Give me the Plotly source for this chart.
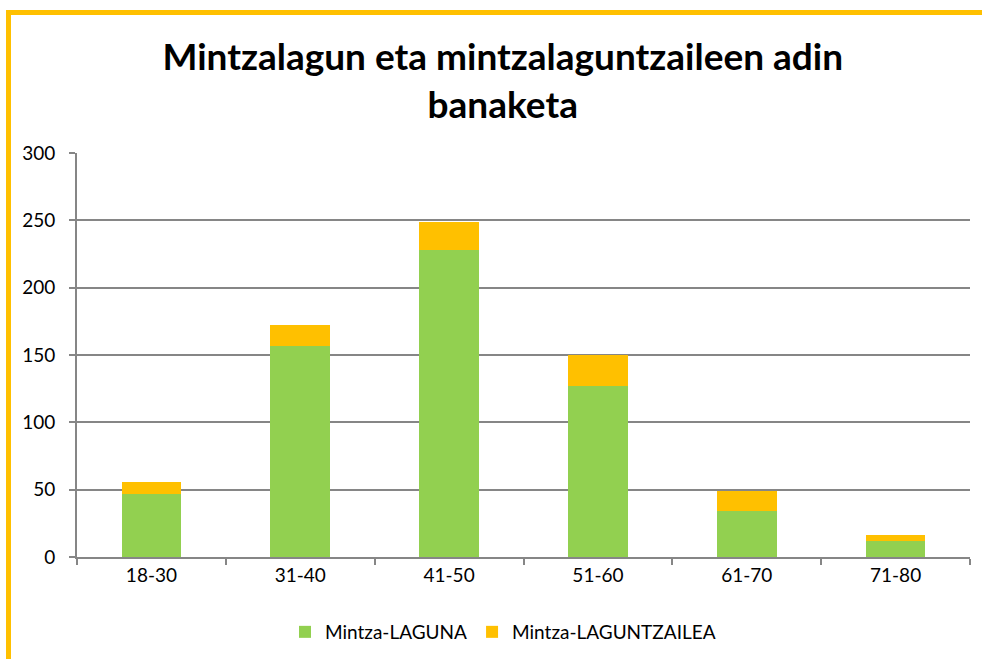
import plotly.graph_objects as go

categories = ["18-30", "31-40", "41-50", "51-60", "61-70", "71-80"]
laguna = [47, 157, 228, 127, 34, 12]
laguntzailea = [9, 15, 21, 23, 15, 4]
y_ticks = [0, 50, 100, 150, 200, 250, 300]

W, H = 982, 659
L, R, T, B = 77, 12, 153, 102
pw, ph = W - L - R, H - T - B

def px_x(x):
    return (x - L) / pw

def px_y(y):
    return (H - B - y) / ph

FONT = "Lato, Open Sans, sans-serif"

fig = go.Figure()
fig.add_trace(go.Bar(x=categories, y=laguna, name="Mintza-LAGUNA",
                     marker=dict(color="#92D050", line=dict(width=0))))
fig.add_trace(go.Bar(x=categories, y=laguntzailea, name="Mintza-LAGUNTZAILEA",
                     marker=dict(color="#FFC000", line=dict(width=0))))

border = "#FFC000"
fig.add_shape(type="line", xref="paper", yref="paper",
              x0=px_x(8.5), x1=px_x(8.5), y0=px_y(10), y1=px_y(670),
              line=dict(color=border, width=5))
fig.add_shape(type="line", xref="paper", yref="paper",
              x0=px_x(6), x1=px_x(1000), y0=px_y(12.5), y1=px_y(12.5),
              line=dict(color=border, width=5))

fig.update_layout(
    width=W, height=H,
    margin=dict(l=L, r=R, t=T, b=B, autoexpand=False),
    barmode="stack",
    bargap=0.6,
    paper_bgcolor="white",
    plot_bgcolor="white",
    font=dict(family=FONT, color="#000000"),
    title=dict(text="<b>Mintzalagun eta mintzalaguntzaileen adin<br>banaketa</b>",
               x=0.512, xanchor="center", y=1 - 70 / H, yanchor="middle",
               font=dict(size=37, color="#000000", family=FONT)),
    showlegend=True,
    legend=dict(orientation="h", x=px_x(285), xanchor="left", y=px_y(632), yanchor="middle",
                font=dict(size=19), traceorder="normal", itemwidth=30),
    xaxis=dict(showline=True, linecolor="#868686", linewidth=2,
               ticks="outside", tickson="boundaries", ticklen=6, tickcolor="#868686",
               tickwidth=2, tickfont=dict(size=19), showgrid=False),
    yaxis=dict(range=[0, 300], tickvals=y_ticks, showline=True, linecolor="#868686",
               linewidth=2, ticks="outside", ticklen=6, tickcolor="#868686", tickwidth=2,
               gridcolor="#868686", gridwidth=1.5, tickfont=dict(size=19), zeroline=False,
               ticklabelstandoff=10),
)

fig.write_html("out.html", post_script="document.body.style.margin='0';",
               config={"displayModeBar": False})
